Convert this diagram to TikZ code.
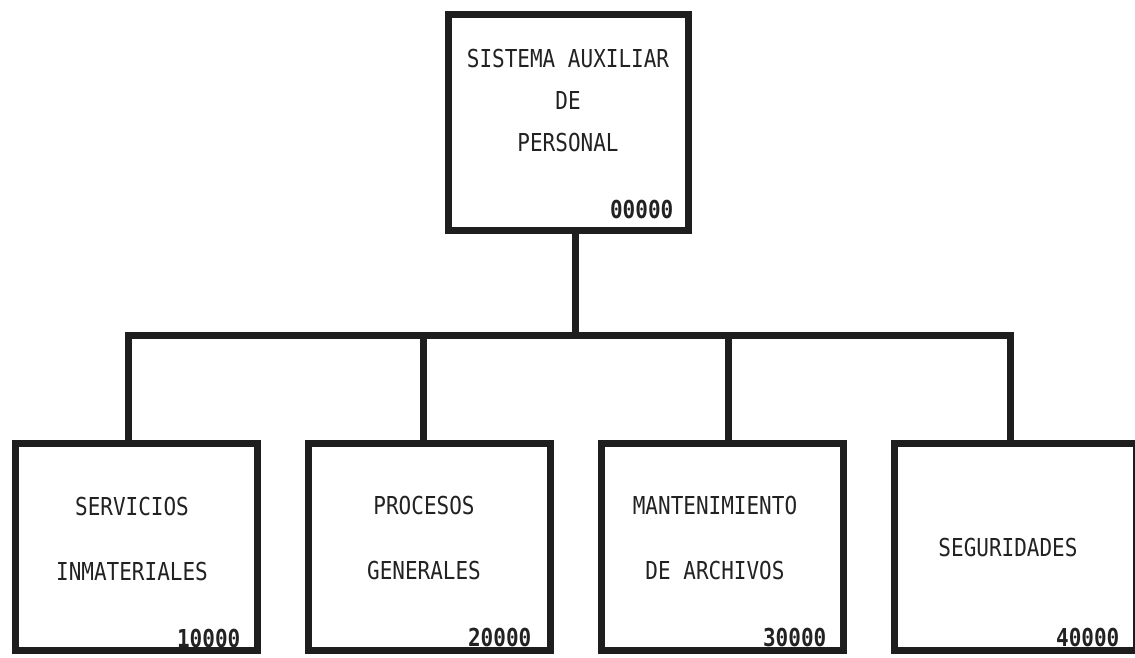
\documentclass[tikz,border=0pt]{standalone}
\usepackage{fontspec}
\newfontfamily\dosfont[FakeStretch=0.85]{DejaVu Sans Mono}
\usetikzlibrary{positioning}
\definecolor{tinta}{HTML}{1E1E1E}
\definecolor{letra}{HTML}{222222}

\begin{document}
\begin{tikzpicture}[
  x=1pt, y=-1pt,
  every node/.style={font=\dosfont\fontsize{24.7}{42}\selectfont, text=letra, align=center},
  raiz/.style={
    draw=tinta,
    line width=7pt,
    inner sep=0pt,
    minimum width=240pt,
    minimum height=215pt
  },
  modulo/.style={
    draw=tinta,
    line width=7pt,
    inner sep=0pt,
    minimum width=242pt,
    minimum height=207pt
  },
  titulo/.style={font=\dosfont\fontsize{24.7}{65}\selectfont, inner sep=0pt},
  codigo/.style={anchor=base east, inner sep=0pt, font=\dosfont\bfseries\fontsize{24.7}{30}\selectfont},
  conexion/.style={draw=tinta, line width=7pt}
]
\useasboundingbox[fill=white] (0,0) rectangle (1135,658);

\node[raiz] (sis) at (568,122.5) {};
\node[inner sep=0pt] (sistxt) at (568,101) {SISTEMA AUXILIAR\\DE\\PERSONAL};
\node[codigo] (sisnum) at ([xshift=-18pt, yshift=15pt]sis.south east) {00000};

\node[modulo] (ser) at (136,546.5) {};
\node[modulo] (pro) at (429,546.5) {};
\node[modulo] (man) at (722,546.5) {};
\node[modulo] (seg) at (1015,546.5) {};

\node[titulo] (sertxt) at (132,539.5) {SERVICIOS\\INMATERIALES};
\node[titulo] (protxt) at (424,538) {PROCESOS\\GENERALES};
\node[titulo] (mantxt) at (715,538.5) {MANTENIMIENTO\\DE ARCHIVOS};
\node[titulo] (segtxt) at (1008,548) {SEGURIDADES};

\node[codigo] (sernum) at ([xshift=-20pt, yshift=6pt]ser.south east) {10000};
\node[codigo] (pronum) at ([xshift=-22pt, yshift=7pt]pro.south east) {20000};
\node[codigo] (mannum) at ([xshift=-20pt, yshift=7pt]man.south east) {30000};
\node[codigo] (segnum) at ([xshift=-20pt, yshift=7pt]seg.south east) {40000};

\coordinate (bus) at (575,335);
\coordinate (c1) at (128,335);
\coordinate (c2) at (423,335);
\coordinate (c3) at (728,335);
\coordinate (c4) at (1010,335);

\draw[conexion] (sis.south -| bus) -- (bus);
\draw[conexion] (ser.north -| c1) -- (c1) -- (c4) -- (seg.north -| c4);
\draw[conexion] (c2) -- (pro.north -| c2);
\draw[conexion] (c3) -- (man.north -| c3);

\end{tikzpicture}
\end{document}
